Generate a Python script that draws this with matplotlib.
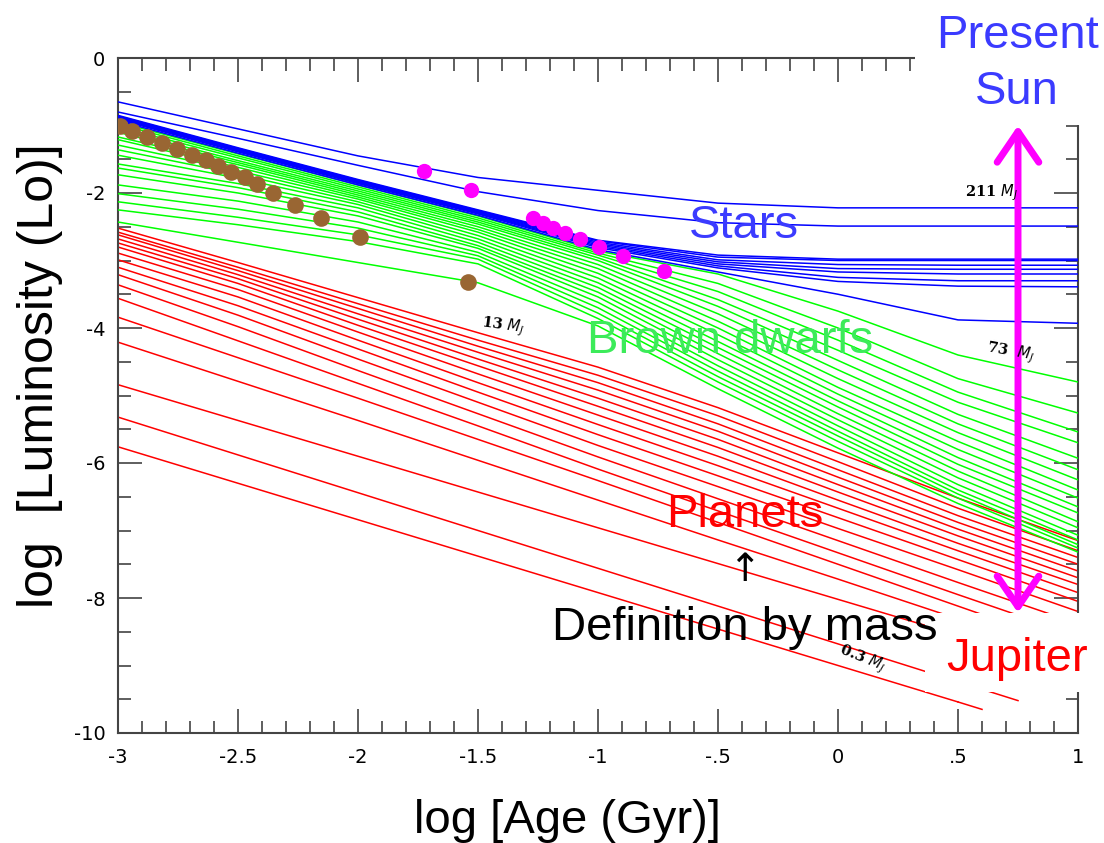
import numpy as np
import matplotlib.pyplot as plt
from matplotlib.patches import Rectangle, FancyArrowPatch
from matplotlib.ticker import MultipleLocator

# common age knots, log t (Gyr)
age = [-3.0, -2.5, -2.0, -1.5, -1.0, -0.5, 0.0, 0.5, 1.0]

# stars (blue), log L at each age knot
stars = [
    [-0.65, -1.05, -1.45, -1.77, -1.96, -2.15, -2.22, -2.22, -2.22],
    [-0.80, -1.19, -1.59, -1.98, -2.26, -2.44, -2.49, -2.49, -2.49],
    [-0.85, -1.33, -1.80, -2.25, -2.70, -2.92, -2.98, -2.98, -2.98],
    [-0.86, -1.34, -1.81, -2.26, -2.71, -2.95, -3.00, -3.00, -3.00],
    [-0.87, -1.35, -1.82, -2.27, -2.73, -2.99, -3.06, -3.07, -3.07],
    [-0.88, -1.36, -1.83, -2.28, -2.75, -3.02, -3.12, -3.13, -3.13],
    [-0.89, -1.37, -1.84, -2.29, -2.77, -3.05, -3.17, -3.20, -3.20],
    [-0.90, -1.38, -1.85, -2.30, -2.79, -3.08, -3.25, -3.30, -3.30],
    [-0.91, -1.39, -1.86, -2.31, -2.81, -3.11, -3.31, -3.38, -3.39],
    [-0.93, -1.41, -1.88, -2.33, -2.84, -3.17, -3.50, -3.88, -3.93],
]

# brown dwarfs (green)
dwarfs = [
    [-0.95, -1.42, -1.88, -2.34, -2.86, -3.20, -3.75, -4.40, -4.80],
    [-0.98, -1.45, -1.91, -2.37, -2.89, -3.34, -4.00, -4.75, -5.26],
    [-1.02, -1.48, -1.94, -2.40, -2.92, -3.46, -4.18, -4.95, -5.54],
    [-1.06, -1.52, -1.97, -2.43, -2.96, -3.58, -4.33, -5.10, -5.70],
    [-1.10, -1.55, -2.00, -2.46, -3.00, -3.68, -4.48, -5.28, -5.93],
    [-1.17, -1.58, -2.03, -2.50, -3.06, -3.79, -4.62, -5.42, -6.10],
    [-1.21, -1.62, -2.06, -2.54, -3.12, -3.90, -4.75, -5.55, -6.25],
    [-1.29, -1.67, -2.09, -2.58, -3.19, -4.00, -4.88, -5.68, -6.40],
    [-1.36, -1.72, -2.13, -2.63, -3.26, -4.10, -4.98, -5.80, -6.52],
    [-1.44, -1.78, -2.17, -2.68, -3.33, -4.20, -5.08, -5.92, -6.65],
    [-1.57, -1.86, -2.22, -2.73, -3.40, -4.29, -5.17, -6.02, -6.74],
    [-1.63, -1.92, -2.28, -2.78, -3.47, -4.38, -5.27, -6.12, -6.87],
    [-1.73, -2.00, -2.34, -2.82, -3.54, -4.47, -5.36, -6.22, -6.96],
    [-1.88, -2.12, -2.43, -2.88, -3.62, -4.56, -5.45, -6.32, -7.07],
    [-2.01, -2.24, -2.52, -2.93, -3.70, -4.64, -5.53, -6.40, -7.14],
    [-2.13, -2.36, -2.62, -2.98, -3.78, -4.72, -5.60, -6.46, -7.21],
    [-2.25, -2.47, -2.72, -3.05, -3.86, -4.80, -5.68, -6.52, -7.26],
    [-2.43, -2.73, -3.03, -3.33, -3.97, -4.90, -5.78, -6.60, -7.32],
]

# planets (red)
planets = [
    [-2.52, -3.03, -3.55, -4.07, -4.58, -5.18, -5.85, -6.52, -7.15],
    [-2.58, -3.10, -3.64, -4.18, -4.70, -5.30, -5.98, -6.67, -7.30],
    [-2.62, -3.15, -3.71, -4.27, -4.81, -5.42, -6.10, -6.78, -7.40],
    [-2.68, -3.21, -3.79, -4.36, -4.92, -5.53, -6.21, -6.88, -7.50],
    [-2.74, -3.27, -3.87, -4.46, -5.04, -5.65, -6.32, -6.98, -7.60],
    [-2.80, -3.34, -3.96, -4.56, -5.16, -5.77, -6.43, -7.08, -7.70],
    [-2.89, -3.43, -4.06, -4.68, -5.29, -5.90, -6.55, -7.19, -7.80],
    [-2.99, -3.54, -4.18, -4.81, -5.43, -6.04, -6.67, -7.30, -7.92],
    [-3.10, -3.67, -4.31, -4.95, -5.58, -6.19, -6.81, -7.43, -8.05],
    [-3.21, -3.81, -4.46, -5.10, -5.74, -6.35, -6.97, -7.58, -8.20],
    [-3.36, -3.98, -4.63, -5.27, -5.91, -6.53, -7.15, -7.77, -8.38],
    [-3.56, -4.19, -4.82, -5.45, -6.09, -6.71, -7.33, -7.95, -8.56],
    [-3.84, -4.44, -5.04, -5.65, -6.26, -6.88, -7.50, -8.12, -8.74],
    [-4.21, -4.79, -5.37, -5.96, -6.55, -7.14, -7.72, -8.31, -8.89],
    [-4.84, -5.37, -5.90, -6.43, -6.96, -7.49, -8.02, -8.55, -9.08],
    [-5.32, -5.88, -6.44, -7.00, -7.56, -8.12, -8.68, -9.24, np.nan],
    [-5.76, -6.30, -6.84, -7.38, -7.92, -8.46, -9.00, -9.54, np.nan],
]
# last model points of the two lowest masses
planet_end = {15: (0.75, -9.52), 16: (0.60, -9.65)}

# 50% deuterium burned (brown) and 50% lithium burned (magenta)
deut_age = [-2.992, -2.942, -2.879, -2.817, -2.754, -2.692, -2.633, -2.583,
            -2.529, -2.471, -2.421, -2.354, -2.263, -2.154, -1.992, -1.542]
deut_lum = [-1.007, -1.081, -1.170, -1.259, -1.348, -1.437, -1.511, -1.600,
            -1.689, -1.763, -1.867, -2.000, -2.178, -2.370, -2.652, -3.319]
lith_age = [-1.725, -1.529, -1.271, -1.229, -1.188, -1.138, -1.075, -0.996,
            -0.896, -0.725]
lith_lum = [-1.674, -1.956, -2.370, -2.444, -2.519, -2.593, -2.681, -2.800,
            -2.933, -3.156]

sun_age = 0.75
sun_lum = [-1.00, -8.22]

W, H = 1104, 843
fig = plt.figure(figsize=(W / 100, H / 100), dpi=100)
ax = fig.add_axes([118 / W, 1 - 733 / H, 960 / W, 675 / H])

lw = 1.1
for i, row in enumerate(planets):
    ax.plot(age, row, color='#ff0000', lw=lw, zorder=2)
    if i in planet_end:
        xe, ye = planet_end[i]
        ax.plot([age[7], xe], [row[7], ye], color='#ff0000', lw=lw, zorder=2)
for row in dwarfs:
    ax.plot(age, row, color='#00ff00', lw=lw, zorder=3)
for row in stars:
    ax.plot(age, row, color='#0000ff', lw=lw, zorder=4)

ax.plot(deut_age, deut_lum, 'o', color='#996633', ms=12, mec='none', zorder=5)
ax.plot(lith_age, lith_lum, 'o', color='#ff00ff', ms=11, mec='none', zorder=5)

arrow = FancyArrowPatch((sun_age, sun_lum[1]), (sun_age, sun_lum[0]),
                        arrowstyle='<->,head_length=1.1,head_width=0.75',
                        mutation_scale=20, color='#ff00ff', lw=5,
                        shrinkA=0, shrinkB=0,
                        capstyle='round', joinstyle='round', zorder=6)
ax.add_patch(arrow)

# mass labels on the tracks
lab = dict(fontsize=10.5, family='DejaVu Serif', weight='bold', color='black',
           ha='center', va='center', zorder=6)
ax.text(0.64, -2.0, r'211 $M_J$', **lab)
ax.text(0.72, -4.36, r'73  $M_J$', rotation=-10, **lab)
ax.text(-1.396, -3.96, r'13 $M_J$', rotation=-8, **lab)
ax.text(0.10, -8.89, r'0.3 $M_J$', rotation=-22, **lab)

big = dict(family='Liberation Sans', fontsize=34, ha='center', va='baseline')
ax.text(-0.39, (58 - 238) / 67.5, 'Stars', color='#3b3bff', zorder=7, **big)
ax.text(-0.45, (58 - 353) / 67.5, 'Brown dwarfs', color='#3ceb5a', zorder=7, **big)
ax.text(-0.39, (58 - 527) / 67.5, 'Planets', color='#ff0000', zorder=7, **big)
ax.text(-0.39, -7.59, '\u2191', color='black', family='DejaVu Sans', fontsize=28,
        ha='center', va='center', zorder=7)

ax.set_xlim(-3, 1)
ax.set_ylim(-10, 0)
ax.xaxis.set_minor_locator(MultipleLocator(0.1))
ax.yaxis.set_minor_locator(MultipleLocator(0.5))
ax.set_xticks(np.arange(-3, 1.01, 0.5))
ax.set_xticklabels(['-3', '-2.5', '-2', '-1.5', '-1', '-.5', '0', '.5', '1'])
ax.set_yticks(np.arange(-10, 0.01, 2))
ax.set_yticklabels(['-10', '-8', '-6', '-4', '-2', '0'])
ax.tick_params(which='both', direction='in', top=True, right=True,
               color='#333333', width=1.1, labelsize=14, labelcolor='black')
ax.tick_params(which='major', length=17)
ax.tick_params(which='minor', length=9)
ax.tick_params(axis='x', pad=11)
ax.tick_params(axis='y', pad=9)
for s in ax.spines.values():
    s.set_color('#444444')
    s.set_linewidth(1.5)

# white patches behind the Sun and Jupiter captions
fig.add_artist(Rectangle((915 / W, 1 - 125 / H), 189 / W, 125 / H,
                         transform=fig.transFigure, facecolor='white',
                         edgecolor='none', zorder=2))
fig.add_artist(Rectangle((925 / W, 1 - 692 / H), 179 / W, 79 / H,
                         transform=fig.transFigure, facecolor='white',
                         edgecolor='none', zorder=2))

cap = dict(family='Liberation Sans', fontsize=34, ha='center', va='baseline', zorder=3)
fig.text(1017 / W, 1 - 48 / H, 'Present', color='#3b3bff', **cap)
fig.text(1017 / W, 1 - 104 / H, 'Sun', color='#3b3bff', **cap)
fig.text(1017 / W, 1 - 671 / H, 'Jupiter', color='#ff0000', **cap)
fig.text(745 / W, 1 - 640 / H, 'Definition by mass', color='black', **cap)

fig.text(567 / W, 1 - 833 / H, 'log [Age (Gyr)]', family='Liberation Sans',
         fontsize=34, ha='center', va='baseline')
fig.text(40 / W, 1 - 376 / H, 'log  [Luminosity (Lo)]', family='Liberation Sans',
         fontsize=36, ha='center', va='center', rotation=90)

fig.savefig('out.png', dpi=100)
